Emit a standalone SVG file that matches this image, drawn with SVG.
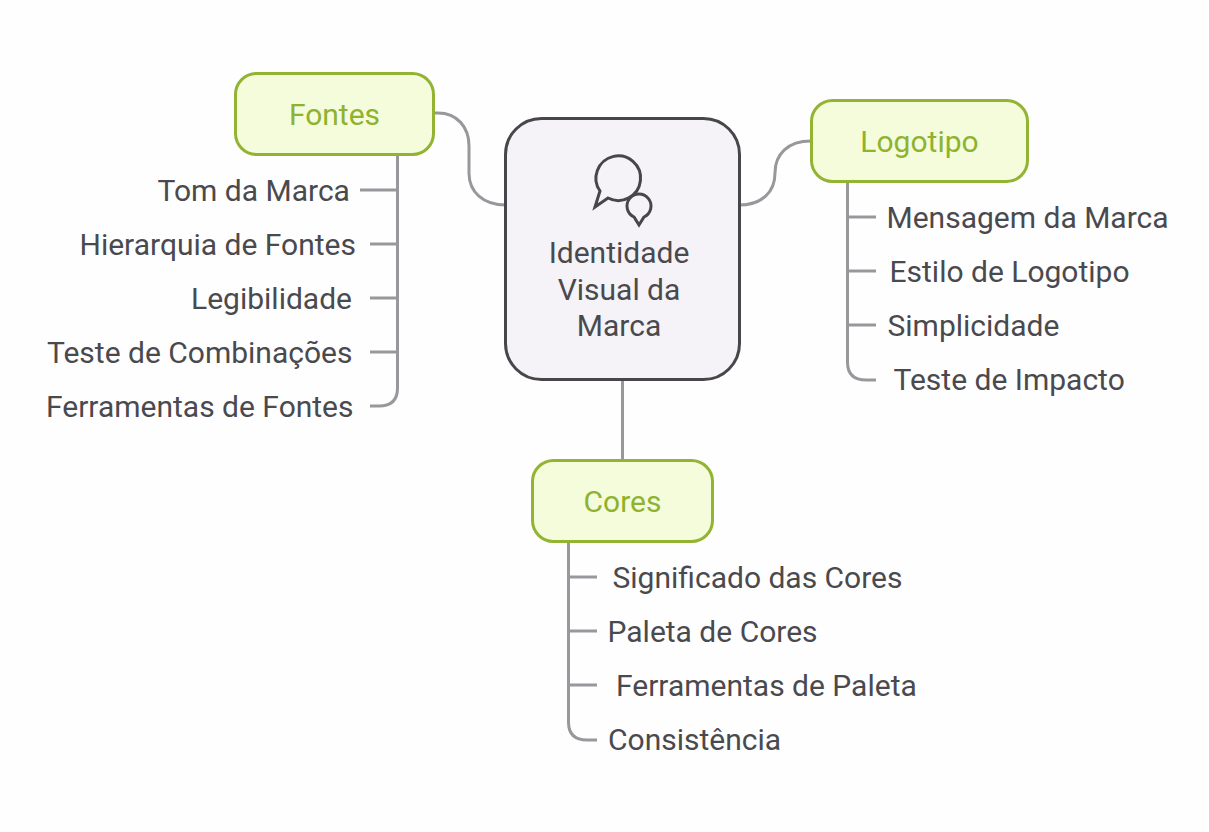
<svg xmlns="http://www.w3.org/2000/svg" width="1209" height="832" viewBox="0 0 1209 832">
<style>
text{font-family:Roboto,"Liberation Sans",sans-serif;font-size:30px;fill:#4a4a4e}
.m{text-anchor:middle}
.g{fill:#8fb22f;text-anchor:middle}
.box{fill:#f4fcdc;stroke:#92b432;stroke-width:3}
.c{fill:none;stroke:#98989c;stroke-width:3}
.i{fill:#f5f3f7;stroke:#47474b;stroke-width:3;stroke-linejoin:miter}
</style>
<rect width="1209" height="832" fill="#fefefe"/>
<g id="connectors">
<path class="c" d="M434 113H438C457 113 469 127 469 146V173C469 192 483 205 506 205"/>
<path class="c" d="M739 205C762 205 775 192 775 173C775 154 788 141 811 141"/>
<path class="c" d="M622.500 379V461"/>
<path class="c" d="M397.500 154V388Q397.500 406 379 406H370"/>
<path class="c" d="M360 190H397M370 244H397M370 298H397M370 352H397"/>
<path class="c" d="M847.500 181V362Q847.500 380 866 380H876"/>
<path class="c" d="M848 217H876M848 271H876M848 325H876"/>
<path class="c" d="M568.500 541V722Q568.500 740 587 740H597"/>
<path class="c" d="M569 577H597M569 631H597M569 685H597"/>
</g>
<g id="center">
<rect x="505.500" y="118.500" width="234" height="261" rx="36" fill="#f5f3f7" stroke="#47474b" stroke-width="3"/>
<path class="i" d="M595 207L600 191A22.300 22.300 0 1 1 608 198Z"/>
<path class="i" d="M639 225L634 217A12 12 0 1 1 644 217Z"/>
<text class="m" x="619" y="263">Identidade</text>
<text class="m" x="619" y="300">Visual da</text>
<text class="m" x="619" y="336">Marca</text>
</g>
<g id="fontes">
<rect class="box" x="235.500" y="73.500" width="198" height="81" rx="21"/>
<text class="g" x="334.500" y="125">Fontes</text>
</g>
<g id="logotipo">
<rect class="box" x="811.500" y="100.500" width="216" height="81" rx="21"/>
<text class="g" x="919.500" y="152">Logotipo</text>
</g>
<g id="cores">
<rect class="box" x="532.500" y="460.500" width="180" height="81" rx="21"/>
<text class="g" x="622.500" y="512">Cores</text>
</g>
<g id="fontes-items">
<text x="157.500" y="201">Tom da Marca</text>
<text x="79.500" y="255">Hierarquia de Fontes</text>
<text x="191" y="309">Legibilidade</text>
<text x="47" y="363">Teste de Combinações</text>
<text x="46" y="417">Ferramentas de Fontes</text>
</g>
<g id="logotipo-items">
<text x="886.500" y="228">Mensagem da Marca</text>
<text x="889.500" y="282">Estilo de Logotipo</text>
<text x="887.500" y="336">Simplicidade</text>
<text x="893.500" y="390">Teste de Impacto</text>
</g>
<g id="cores-items">
<text x="612.500" y="588">Significado das Cores</text>
<text x="607.500" y="642">Paleta de Cores</text>
<text x="616" y="696">Ferramentas de Paleta</text>
<text x="608" y="750">Consistência</text>
</g>
</svg>
